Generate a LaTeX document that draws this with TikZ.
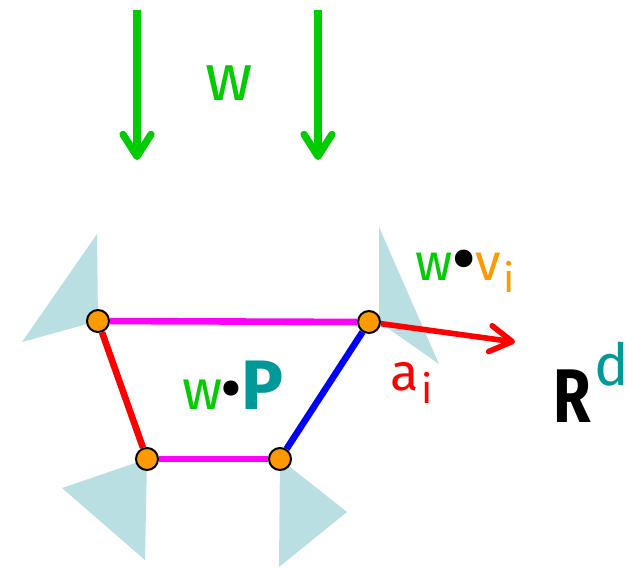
\documentclass[tikz,border=0pt]{standalone}
\usepackage{fontspec}
\setmainfont{Fira Sans}
\usetikzlibrary{arrows.meta,backgrounds}
\definecolor{wgreen}{HTML}{00CC00}
\definecolor{edgemag}{HTML}{FF00FF}
\definecolor{edgered}{HTML}{FF0000}
\definecolor{edgeblue}{HTML}{0000FF}
\definecolor{vertorange}{HTML}{FF9900}
\definecolor{polyteal}{HTML}{009999}
\definecolor{conefill}{HTML}{B9DFE3}
\newcommand{\fsz}[1]{\fontsize{#1}{#1}\selectfont}
\newcommand{\bigdot}[2]{\raisebox{#2}{\scalebox{#1}{\textbullet}}}
\tikzset{
  vertex/.style={circle, draw=black, line width=1pt, fill=vertorange,
    minimum size=11pt, inner sep=0pt},
  edge/.style={line width=3.3pt},
  cone/.style={fill=conefill, draw=none},
  gravity/.style={draw=wgreen, line width=3.6pt,
    -{Straight Barb[length=11pt, width=14pt, round]}},
  normal/.style={draw=edgered, line width=2.8pt,
    -{Straight Barb[length=11pt, width=13pt, round]}},
  label/.style={inner sep=0pt, anchor=base west}
}

\begin{document}
\begin{tikzpicture}[x=0.5pt, y=-0.5pt]
  \useasboundingbox (0,0) rectangle (644,568);

  % vertices of the polygon
  \node[vertex] (v1) at (98,321) {};
  \node[vertex] (v2) at (369,322) {};
  \node[vertex] (v3) at (147,459) {};
  \node[vertex] (v4) at (280,459) {};

  \begin{scope}[on background layer]
    % normal cones
    \fill[cone] (97,234) -- (v1.center) -- (22,342) -- cycle;
    \fill[cone] (379,227) -- (379,322) -- (439,364) -- cycle;
    \fill[cone] (v3.center) -- (62,488) -- (145,560) -- cycle;
    \fill[cone] (v4.center) -- (347,512) -- (279,567) -- cycle;
    % edges
    \draw[edge, edgemag] (v1) -- (v2);
    \draw[edge, edgemag] (v3) -- (v4);
    \draw[edge, edgered] (v1) -- (v3);
    \draw[edge, edgeblue] (v4) -- (v2);
  \end{scope}

  % direction w
  \coordinate (g1s) at (137,10);
  \coordinate (g1e) at (137,160);
  \coordinate (g2s) at (318,10);
  \coordinate (g2e) at (318,160);
  \draw[gravity] (g1s) -- (g1e);
  \draw[gravity] (g2s) -- (g2e);
  \node[label, anchor=base] (wtop) at (229,100) {\fsz{33}\color{wgreen}w};

  % vector a_i
  \coordinate (ai) at (515,342);
  \draw[normal] (v2) -- (ai);

  % labels
  \node[label] (wp) at (182,409)
    {\fsz{28}\textcolor{wgreen}{w}\hspace{-1pt}\bigdot{1.2}{-1pt}\hspace{-0.5pt}\textcolor{polyteal}{\fsz{35}\bfseries P}};
  \node[label] (wv) at (415,280)
    {\fsz{26}\textcolor{wgreen}{w}\hspace{-0.5pt}\bigdot{1.5}{-2.5pt}\hspace{-0.5pt}\textcolor{vertorange}{v\hspace{1pt}\raisebox{-6pt}{\fsz{20}i}}};
  \node[label] (alab) at (390,390)
    {\fsz{26}\color{edgered}a\hspace{1.5pt}\raisebox{-6.5pt}{\fsz{20}i}};
  \node[label] (rd) at (553,422)
    {\fsz{38}\bfseries\scalebox{0.8}[1]{R}\raisebox{18.5pt}{\mdseries\fsz{29}\color{polyteal}\hspace{2pt}d}};
\end{tikzpicture}
\end{document}
